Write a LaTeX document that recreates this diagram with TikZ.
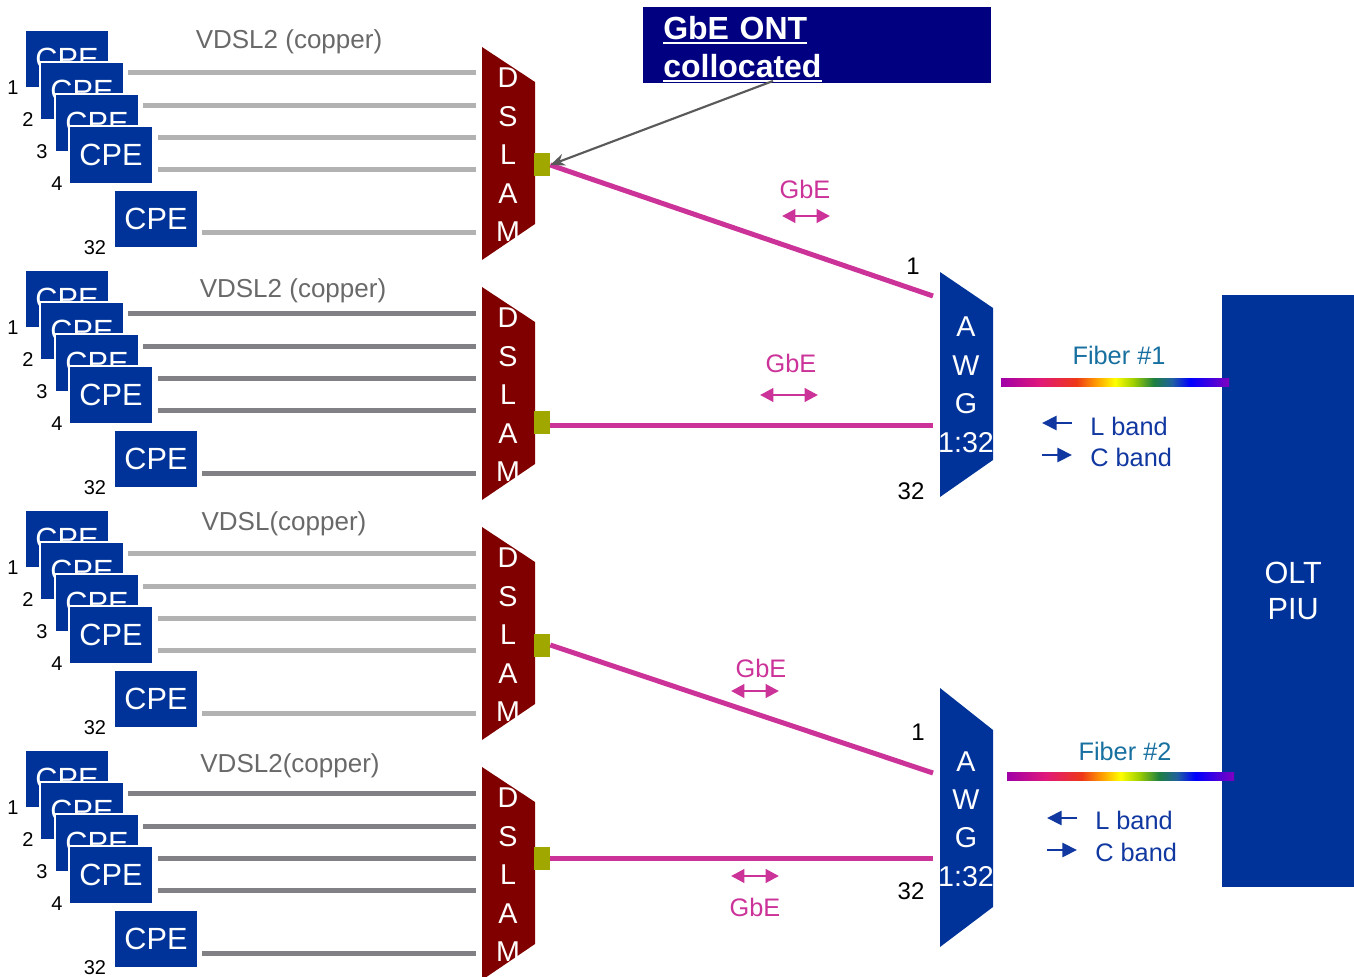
\documentclass[tikz,border=0pt]{standalone}
\usepackage{fontspec}
\setmainfont{Liberation Sans}
\usetikzlibrary{arrows.meta}

\definecolor{cpeblue}{RGB}{0,51,153}
\definecolor{dslamred}{RGB}{128,0,0}
\definecolor{portgreen}{RGB}{160,168,0}
\definecolor{gbe}{RGB}{204,51,153}
\definecolor{cuLight}{RGB}{178,178,178}
\definecolor{cuDark}{RGB}{128,128,133}
\definecolor{lblgray}{RGB}{105,105,105}
\definecolor{ontnavy}{RGB}{0,0,128}
\definecolor{fibertxt}{RGB}{24,112,160}
\definecolor{bandblue}{RGB}{16,56,160}
\definecolor{arrowgray}{RGB}{90,90,90}
% rainbow stops for the fibre bars
\definecolor{rb0}{RGB}{160,0,168}
\definecolor{rb1}{RGB}{224,24,122}
\definecolor{rb2}{RGB}{238,56,24}
\definecolor{rb3}{RGB}{255,160,0}
\definecolor{rb4}{RGB}{255,255,0}
\definecolor{rb5}{RGB}{160,208,0}
\definecolor{rb6}{RGB}{30,128,64}
\definecolor{rb7}{RGB}{32,96,160}
\definecolor{rb8}{RGB}{0,0,255}
\definecolor{rb9}{RGB}{128,0,192}

\pgfdeclarehorizontalshading{rainbow}{100bp}{%
  color(0bp)=(rb0); color(25bp)=(rb0); color(33.5bp)=(rb1); color(41.5bp)=(rb2);
  color(46bp)=(rb3); color(50bp)=(rb4); color(54bp)=(rb5); color(58.5bp)=(rb6);
  color(62.5bp)=(rb7); color(66.5bp)=(rb8); color(75bp)=(rb9); color(100bp)=(rb9)}

% underlined line of text for the ONT banner
\newcommand\ontline[1]{\leavevmode\setbox0\hbox{#1}\rlap{\rule[-3pt]{\wd0}{1.5pt}}\box0}

\begin{document}
\begin{tikzpicture}[x=0.75pt,y=-0.75pt,
  every node/.style={inner sep=0pt},
  cpebox/.style={fill=cpeblue, draw=white, line width=1.5pt, text=white,
    minimum width=63pt, minimum height=43.5pt, anchor=north west,
    font=\fontsize{23}{25}\selectfont},
  numlbl/.style={font=\fontsize{15}{17}\selectfont, text=black},
  culbl/.style={font=\fontsize{19.5}{22}\selectfont, text=lblgray},
  copper/.style={draw=#1, line width=3.75pt},
  dslamtxt/.style={font=\fontsize{21.5}{24}\selectfont, text=white},
  awgtxt/.style={font=\fontsize{21.5}{24}\selectfont, text=white},
  port/.style={fill=portgreen, minimum width=12pt, minimum height=17.25pt},
  gbeline/.style={draw=gbe, line width=3.75pt},
  gbearrow/.style={draw=gbe, line width=2.2pt,
    arrows={Triangle[length=10pt,width=10pt]-Triangle[length=10pt,width=10pt]}},
  gbelbl/.style={font=\fontsize{19}{21}\selectfont, text=gbe},
  awgnum/.style={font=\fontsize{18}{20}\selectfont, text=black},
  bandarrow/.style={draw=bandblue, line width=2.2pt,
    arrows={-Triangle[length=11pt,width=10.5pt]}},
  bandlbl/.style={font=\fontsize{19}{21}\selectfont, text=bandblue, anchor=west},
  fiberlbl/.style={font=\fontsize{19}{21}\selectfont, text=fibertxt},
  ontarrow/.style={draw=arrowgray, line width=1.6pt,
    arrows={-Stealth[length=11pt,width=9pt]}}
]
\useasboundingbox (0,0) rectangle (1354,977);

% ---- four access groups: CPE stack, copper drops, DSLAM ----
\foreach \g/\dy/\py/\ly/\lx/\lab/\lc in {
    1/0/165/42/289/{VDSL2 (copper)}/cuLight,
    2/240/422/291/293/{VDSL2 (copper)}/cuDark,
    3/480/645/524/284/{VDSL(copper)}/cuLight,
    4/720/858/766/290/{VDSL2(copper)}/cuDark}{
  \node[cpebox] (cpe\g-1) at (24,{29+\dy}) {CPE};
  \node[cpebox] (cpe\g-2) at (39,{61+\dy}) {CPE};
  \node[cpebox] (cpe\g-3) at (54,{93+\dy}) {CPE};
  \node[cpebox] (cpe\g-4) at (68,{125+\dy}) {CPE};
  \node[cpebox] (cpe\g-32) at (113,{189+\dy}) {CPE};
  \node[numlbl] (num\g-1) at (13,{88+\dy}) {1};
  \node[numlbl] (num\g-2) at (28,{120+\dy}) {2};
  \node[numlbl] (num\g-3) at (42,{152+\dy}) {3};
  \node[numlbl] (num\g-4) at (57,{184+\dy}) {4};
  \node[numlbl] (num\g-32) at (95,{248+\dy}) {32};
  \node[culbl] (culbl\g) at (\lx,\ly) {\lab};
  \foreach \k/\xs/\yl in {1/128/73, 2/143/106, 3/158/138, 4/158/170, 5/202/233}{
    \coordinate (cu\g s\k) at (\xs,{\yl+\dy});
    \coordinate (cu\g e\k) at (476,{\yl+\dy});
    \draw[copper=\lc] (cu\g s\k) -- (cu\g e\k);
  }
  \fill[dslamred] (482,{47+\dy}) -- (535,{82+\dy}) -- (535,{224+\dy})
    -- (482,{260+\dy}) -- cycle;
  \foreach \ch/\yy [count=\i] in {D/78, S/117, L/155, A/194, M/232}{
    \node[dslamtxt] (dsl\g-\i) at (508,{\yy+\dy}) {\ch};
  }
  \node[port] (port\g) at (542,\py) {};
}

% ---- AWG multiplexers ----
\fill[cpeblue] (940,272) -- (993,308) -- (993,460) -- (940,497) -- cycle;
\fill[cpeblue] (940,688) -- (993,730) -- (993,907) -- (940,947) -- cycle;
\foreach \ch/\yy [count=\i] in {A/327, W/366, G/404, 1:32/443}{
  \node[awgtxt] (awga\i) at (966,\yy) {\ch};
}
\foreach \ch/\yy [count=\i] in {A/762, W/800, G/838, 1:32/877}{
  \node[awgtxt] (awgb\i) at (966,\yy) {\ch};
}
\node[awgnum] (awga-in1) at (913,266) {1};
\node[awgnum] (awga-in32) at (911,491) {32};
\node[awgnum] (awgb-in1) at (918,732) {1};
\node[awgnum] (awgb-in32) at (911,891) {32};

% ---- GbE uplinks from the DSLAMs to the AWGs ----
\coordinate (a1top) at (933,296);
\coordinate (a1bot) at (933,425.5);
\coordinate (a2top) at (933,773);
\coordinate (a2bot) at (933,858);
\draw[gbeline] (port1.east) -- (a1top);
\draw[gbeline] (port2.east |- a1bot) -- (a1bot);
\draw[gbeline] (port3.east) -- (a2top);
\draw[gbeline] (port4.east |- a2bot) -- (a2bot);

\coordinate (g1l) at (782,216); \coordinate (g1r) at (830,216);
\coordinate (g2l) at (760,395); \coordinate (g2r) at (818,395);
\coordinate (g3l) at (731,691); \coordinate (g3r) at (779,691);
\coordinate (g4l) at (731,876); \coordinate (g4r) at (779,876);
\draw[gbearrow] (g1l) -- (g1r);
\draw[gbearrow] (g2l) -- (g2r);
\draw[gbearrow] (g3l) -- (g3r);
\draw[gbearrow] (g4l) -- (g4r);
\node[gbelbl] (gbe1) at (805,189) {GbE};
\node[gbelbl] (gbe2) at (791,363) {GbE};
\node[gbelbl] (gbe3) at (761,668) {GbE};
\node[gbelbl] (gbe4) at (755,907) {GbE};

% ---- ONT banner with pointer to the first DSLAM port ----
\node[fill=ontnavy, anchor=north west, minimum height=57pt, text width=231pt,
  inner xsep=15pt, inner ysep=0pt, align=left, text=white,
  font=\fontsize{24}{28.5}\selectfont\bfseries] (ont) at (643,7)
  {\rule{0pt}{23.5pt}\ontline{GbE ONT}\\\ontline{collocated}};
\coordinate (ontfoot) at (773,81);
\draw[ontarrow] (ontfoot) -- (port1.east);

% ---- OLT and the two fibres ----
\node[fill=cpeblue, anchor=north west, minimum width=106.5pt, minimum height=444pt,
  text=white, align=center, font=\fontsize{23}{27}\selectfont] (olt) at (1222,295)
  {OLT\\PIU};

\coordinate (f1s) at (1001,378.5); \coordinate (f1e) at (1229,386.5);
\coordinate (f2s) at (1007,772.5); \coordinate (f2e) at (1234,780.5);
\shade[shading=rainbow] (f1s) rectangle (f1e);
\shade[shading=rainbow] (f2s) rectangle (f2e);
\node[fiberlbl] (fib1) at (1119,355) {Fiber \#1};
\node[fiberlbl] (fib2) at (1125,751) {Fiber \#2};

\coordinate (l1a) at (1072,423); \coordinate (l1b) at (1042,423);
\coordinate (c1a) at (1042,455); \coordinate (c1b) at (1072,455);
\coordinate (l2a) at (1077,818); \coordinate (l2b) at (1047,818);
\coordinate (c2a) at (1047,850); \coordinate (c2b) at (1077,850);
\draw[bandarrow] (l1a) -- (l1b);
\draw[bandarrow] (c1a) -- (c1b);
\draw[bandarrow] (l2a) -- (l2b);
\draw[bandarrow] (c2a) -- (c2b);
\node[bandlbl] (lb1) at (1090,426) {L band};
\node[bandlbl] (cb1) at (1090,457) {C band};
\node[bandlbl] (lb2) at (1095,820) {L band};
\node[bandlbl] (cb2) at (1095,852) {C band};
\end{tikzpicture}
\end{document}
